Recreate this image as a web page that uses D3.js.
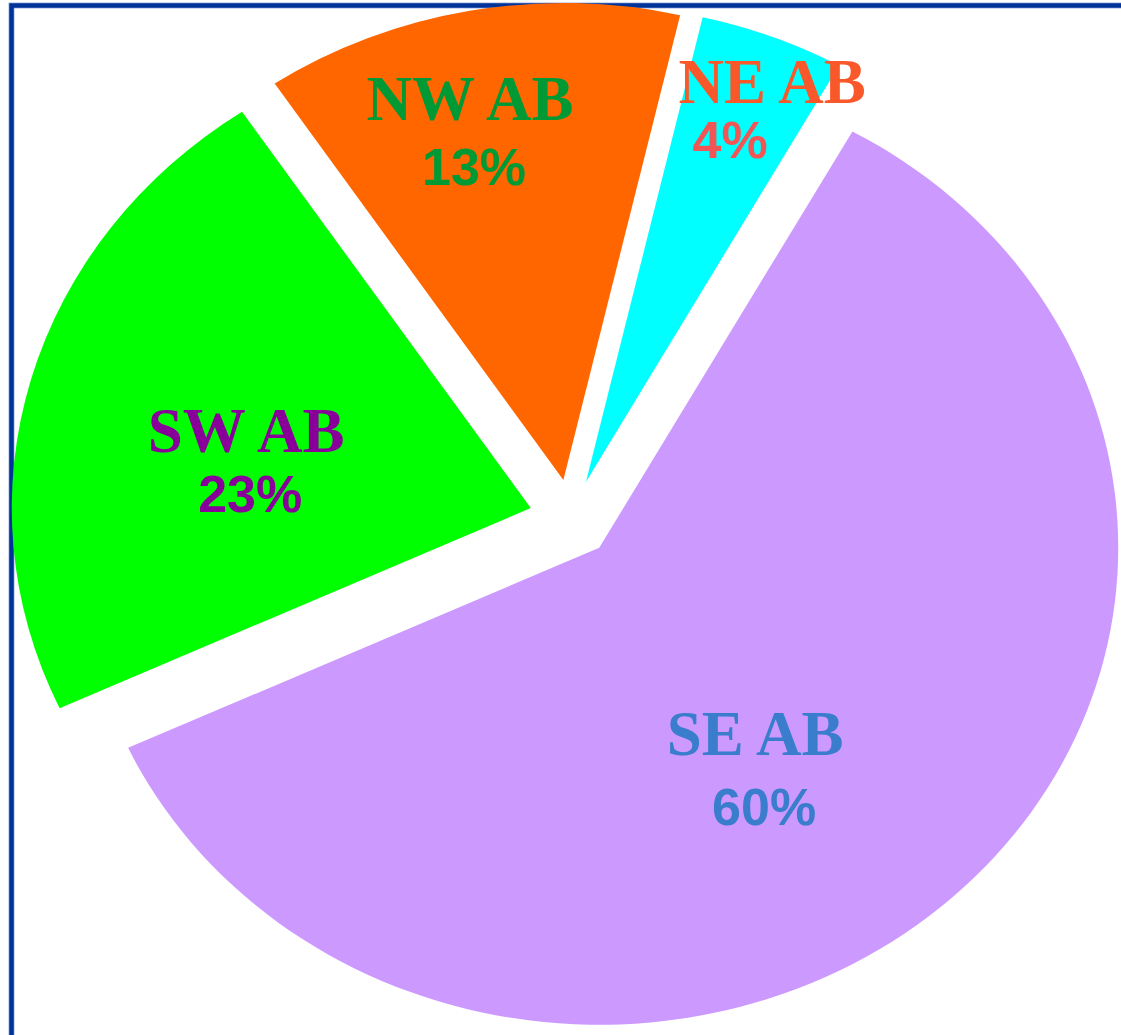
<!DOCTYPE html>
<html>
<head>
<meta charset="utf-8">
<script src="https://cdn.jsdelivr.net/npm/d3@7"></script>
<style>
html,body{margin:0;padding:0;background:#fff;}
svg{display:block;}
</style>
</head>
<body>
<svg id="chart" width="1121" height="1035"></svg>
<script>
// ---- data ----
const regions = ["NE AB", "SE AB", "SW AB", "NW AB"];
const shares = [4.5, 60, 22.5, 13];
const shareLabels = ["4%", "60%", "23%", "13%"];

// ---- styles / layout ----
const sliceColors = ["#00ffff", "#cc99ff", "#00ff00", "#ff6600"];
const nameColors = ["#f8582a", "#3a7dcc", "#880099", "#009933"];
const pctColors = ["#f05656", "#3a7dcc", "#880099", "#009933"];
// label placement: angle nudge (deg) from slice bisector, radius fraction, pct offset
const labelNudge = [3.2, 8.2, -3.5, -3.0];
const labelRadius = [0.872, 0.529, 0.561, 0.776];
const pctShift = [[-42, 55], [9, 70], [4, 60], [4, 65]];

const W = 1121, H = 1035;
const cx = 570.9, cy = 518.8;
const R = 519, k = 477 / 519;
const explodeX = 41.7, explodeY = 39.5;
const startDeg = 13.0;

const svg = d3.select("#chart");

// frame
const framePath = `M11.5,${H + 10} L11.5,5.5 L${W + 10},5.5`;
svg.append("path").attr("d", framePath)
  .attr("fill", "none").attr("stroke", "#9fb3e0").attr("stroke-width", 6);
svg.append("path").attr("d", framePath)
  .attr("fill", "none").attr("stroke", "#003399").attr("stroke-width", 4.5);

const rad = d => d * Math.PI / 180;
const pie = d3.pie().sort(null).startAngle(rad(startDeg)).endAngle(rad(startDeg + 360));
const arcs = pie(shares);
const arc = d3.arc().innerRadius(0).outerRadius(R);

const g = svg.append("g");
const lg = svg.append("g");
arcs.forEach((a, i) => {
  const mid = (a.startAngle + a.endAngle) / 2;
  const ox = cx + explodeX * Math.sin(mid);
  const oy = cy - explodeY * Math.cos(mid);
  g.append("path")
    .attr("d", arc(a))
    .attr("fill", sliceColors[i])
    .attr("transform", `translate(${ox},${oy}) scale(1,${k})`);

  const la = mid + rad(labelNudge[i]);
  const lr = labelRadius[i] * R;
  const lx = ox + lr * Math.sin(la);
  const ly = oy - lr * Math.cos(la) * k;

  lg.append("text")
    .attr("x", lx).attr("y", ly)
    .attr("text-anchor", "middle")
    .attr("font-family", "'Liberation Serif','Times New Roman',serif")
    .attr("font-weight", "bold")
    .attr("font-size", 63)
    .attr("fill", nameColors[i])
    .text(regions[i]);
  lg.append("text")
    .attr("x", lx + pctShift[i][0]).attr("y", ly + pctShift[i][1])
    .attr("text-anchor", "middle")
    .attr("font-family", "'Liberation Sans',Arial,sans-serif")
    .attr("font-weight", "bold")
    .attr("font-size", 52)
    .attr("fill", pctColors[i])
    .text(shareLabels[i]);
});
</script>
</body>
</html>
